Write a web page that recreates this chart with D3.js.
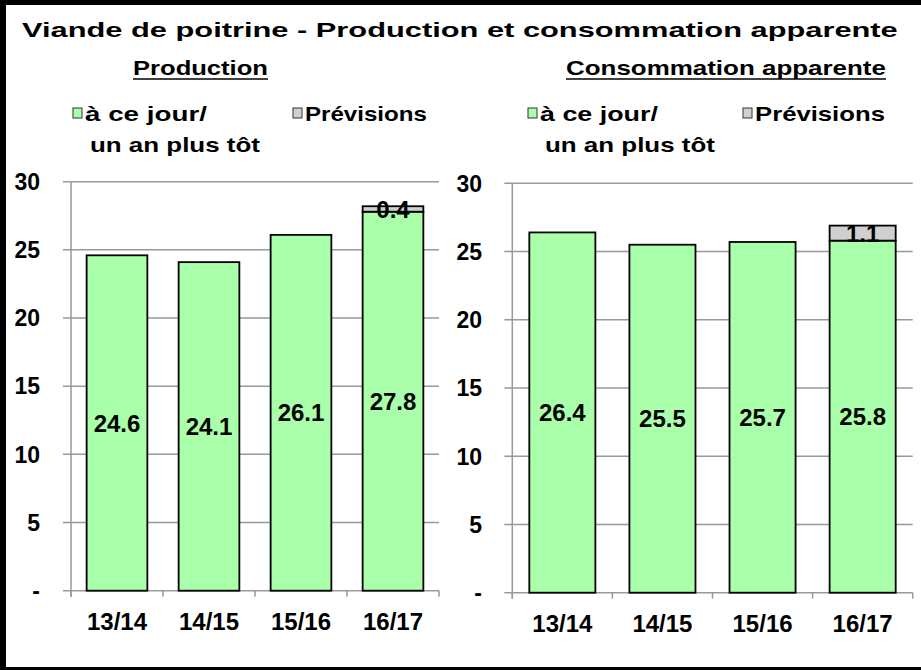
<!DOCTYPE html>
<html>
<head>
<meta charset="utf-8">
<script src="https://cdn.jsdelivr.net/npm/d3@7"></script>
<style>
  body { margin: 0; background: #fff; }
  svg { display: block; font-family: "Liberation Sans", Arial, sans-serif; font-weight: bold; }
</style>
</head>
<body>
<svg id="chart" width="921" height="670"></svg>
<script>
// data
const categories = ['13/14', '14/15', '15/16', '16/17'];
const productionToDate = [24.6, 24.1, 26.1, 27.8];
const productionForecast = [0, 0, 0, 0.4];
const consumptionToDate = [26.4, 25.5, 25.7, 25.8];
const consumptionForecast = [0, 0, 0, 1.1];
const yTicks = [0, 5, 10, 15, 20, 25, 30];
const legendLabels = [['à ce jour/', 'un an plus tôt'], ['Prévisions']];

const GREEN = '#aaffaa';
const GREY = '#d0d0d0';
const GRID = '#999999';

const svg = d3.select('#chart');
svg.append('rect').attr('width', 921).attr('height', 670).attr('fill', '#fff');

// frame (top, left, bottom)
svg.append('rect').attr('x', 0).attr('y', 0).attr('width', 921).attr('height', 5).attr('fill', '#000');
svg.append('rect').attr('x', 0).attr('y', 0).attr('width', 6).attr('height', 670).attr('fill', '#000');
svg.append('rect').attr('x', 0).attr('y', 667).attr('width', 921).attr('height', 3).attr('fill', '#000');

// header text in the original is drawn horizontally stretched: scale glyphs to the target width
function wideText(g, x, y, str, size, width) {
  const t = g.append('text')
    .attr('font-size', size)
    .text(str);
  const natural = t.node().getComputedTextLength();
  t.attr('transform', `translate(${x},${y}) scale(${width / natural},1)`);
  return t;
}

wideText(svg, 22, 37, 'Viande de poitrine - Production et consommation apparente', 21, 876);

const panels = [
  {
    title: 'Production', titleX: 133, titleW: 135,
    toDate: productionToDate, forecast: productionForecast,
    left: 71, right: 439, top: 181.7, bottom: 590.7, tickX: 40,
    legend: { x1: 73, x2: 293, w1: [122, 170], w2: 122 }
  },
  {
    title: 'Consommation apparente', titleX: 566, titleW: 320,
    toDate: consumptionToDate, forecast: consumptionForecast,
    left: 512.3, right: 912.7, top: 183.3, bottom: 592.7, tickX: 482,
    legend: { x1: 528, x2: 743, w1: [118, 170], w2: 130 }
  }
];

panels.forEach((p) => {
  const g = svg.append('g');

  // subtitle, underlined
  wideText(g, p.titleX, 75, p.title, 20, p.titleW);
  g.append('line')
    .attr('x1', p.titleX).attr('x2', p.titleX + p.titleW)
    .attr('y1', 79).attr('y2', 79)
    .attr('stroke', '#000').attr('stroke-width', 1.6);

  // legend
  const lg = p.legend;
  g.append('rect')
    .attr('x', lg.x1).attr('y', 108).attr('width', 9).attr('height', 10)
    .attr('fill', GREEN).attr('stroke', '#333').attr('stroke-width', 1);
  wideText(g, lg.x1 + 12, 121, legendLabels[0][0], 20, lg.w1[0]);
  wideText(g, lg.x1 + 17, 152, legendLabels[0][1], 20, lg.w1[1]);
  g.append('rect')
    .attr('x', lg.x2).attr('y', 108).attr('width', 9).attr('height', 10)
    .attr('fill', GREY).attr('stroke', '#333').attr('stroke-width', 1);
  wideText(g, lg.x2 + 12, 121, legendLabels[1][0], 20, lg.w2);

  const x = d3.scaleBand()
    .domain(categories)
    .range([p.left, p.right])
    .paddingInner(0.34)
    .paddingOuter(0.17);
  const y = d3.scaleLinear().domain([0, 30]).range([p.bottom, p.top]);

  // gridlines + y ticks
  g.append('g')
    .selectAll('line')
    .data(yTicks)
    .join('line')
    .attr('x1', p.left - 8).attr('x2', p.right)
    .attr('y1', (d) => y(d)).attr('y2', (d) => y(d))
    .attr('stroke', GRID).attr('stroke-width', 1.5);

  g.append('line')
    .attr('x1', p.left).attr('x2', p.left)
    .attr('y1', p.top).attr('y2', p.bottom + 6)
    .attr('stroke', GRID).attr('stroke-width', 1.5);

  // category boundary ticks under the baseline
  const bounds = categories.map((c) => x(c) - (x.step() - x.bandwidth()) / 2).concat([p.right]);
  g.append('g')
    .selectAll('line')
    .data(bounds)
    .join('line')
    .attr('x1', (d) => d).attr('x2', (d) => d)
    .attr('y1', p.bottom).attr('y2', p.bottom + 6)
    .attr('stroke', GRID).attr('stroke-width', 1.5);

  g.append('g')
    .selectAll('text')
    .data(yTicks)
    .join('text')
    .attr('x', p.tickX)
    .attr('y', (d) => y(d))
    .attr('dy', '0.36em')
    .attr('text-anchor', 'end')
    .attr('font-size', 23)
    .text((d) => (d === 0 ? '-' : d));

  g.append('g')
    .selectAll('text')
    .data(categories)
    .join('text')
    .attr('x', (d) => x(d) + x.bandwidth() / 2)
    .attr('y', p.bottom + 39)
    .attr('text-anchor', 'middle')
    .attr('font-size', 24)
    .text((d) => d);

  // stacked bars
  const rows = categories.map((c, i) => ({ cat: c, toDate: p.toDate[i], forecast: p.forecast[i] }));
  const stacked = d3.stack().keys(['toDate', 'forecast'])(rows);
  const fills = { toDate: GREEN, forecast: GREY };

  stacked.forEach((layer) => {
    g.append('g')
      .selectAll('rect')
      .data(layer.filter((d) => d[1] - d[0] > 0))
      .join('rect')
      .attr('x', (d) => x(d.data.cat))
      .attr('width', x.bandwidth())
      .attr('y', (d) => y(d[1]))
      .attr('height', (d) => y(d[0]) - y(d[1]))
      .attr('fill', fills[layer.key])
      .attr('stroke', '#000')
      .attr('stroke-width', 1.8);
  });

  stacked.forEach((layer) => {
    g.append('g')
      .selectAll('text')
      .data(layer.filter((d) => d[1] - d[0] > 0))
      .join('text')
      .attr('x', (d) => x(d.data.cat) + x.bandwidth() / 2)
      .attr('y', (d) => y((d[0] + d[1]) / 2))
      .attr('dy', '0.36em')
      .attr('text-anchor', 'middle')
      .attr('font-size', 24)
      .attr('fill', '#000')
      .text((d) => d3.format('.1f')(d[1] - d[0]));
  });
});
</script>
</body>
</html>
